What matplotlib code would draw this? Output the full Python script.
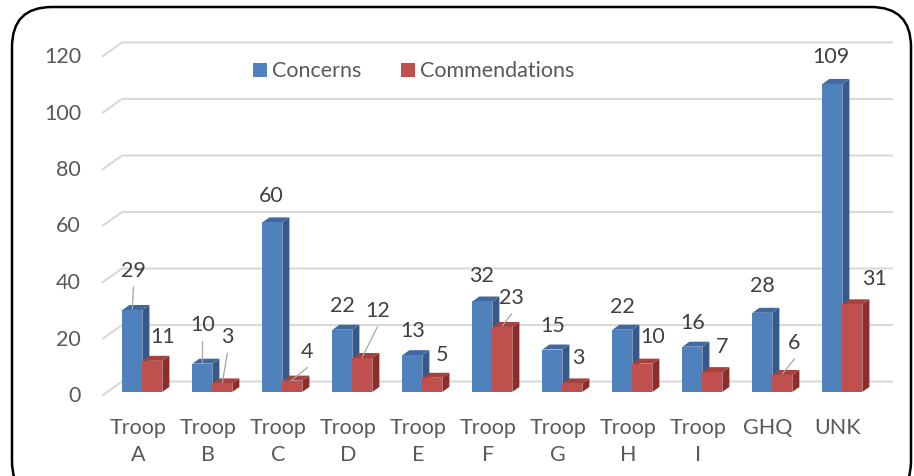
import matplotlib.pyplot as plt
import matplotlib.transforms as mtransforms
from matplotlib.patches import Polygon, FancyBboxPatch, Rectangle
from matplotlib.lines import Line2D

# --- data ---
categories = ["Troop\nA", "Troop\nB", "Troop\nC", "Troop\nD", "Troop\nE", "Troop\nF",
              "Troop\nG", "Troop\nH", "Troop\nI", "GHQ", "UNK"]
concerns = [29, 10, 60, 22, 13, 32, 15, 22, 16, 28, 109]
commendations = [11, 3, 4, 12, 5, 23, 3, 10, 7, 6, 31]
y_ticks = [0, 20, 40, 60, 80, 100, 120]

# label placement (px right, px above bar top, leader line?)
conc_lbl = [(1, 40, True), (0, 40, True), (-1, 27, False), (0, 25, False), (0, 25, False),
            (-1, 26, False), (0, 25, False), (0, 24, False), (0, 25, False), (0, 28, False),
            (-1, 28, False)]
comm_lbl = [(10, 25, False), (5, 47, True), (15, 30, True), (15, 48, True), (10, 24, False),
            (9, 30, True), (6, 26, False), (10, 28, False), (10, 26, False), (12, 33, True),
            (22, 26, False)]

W, H = 914, 477
FONT = ["Lato", "DejaVu Sans"]
FS = 15.5
TXT = "#595959"
GRID = "#D9D9D9"
BLUE = ("#4F81BD", "#34598A", "#41699F")   # front, side, top
RED = ("#C0504D", "#8A2D2B", "#A5413E")

fig = plt.figure(figsize=(W / 100, H / 100), dpi=100)
# front plane of the 3-D box
ax = fig.add_axes([103 / W, (H - 396) / H, 770 / W, 339 / H])
ax.set_xlim(-0.5, len(categories) - 0.5)
ax.set_ylim(0, 120)
ax.axis("off")

DX, DY = 19, 13.5          # depth of floor in px
D0, D1 = 0.23, 0.60        # bar front / back depth
BW = 20 / 70               # bar width in category units
ident = mtransforms.IdentityTransform()


def P(x, y, d=0.0):
    px, py = ax.transData.transform((x, y))
    return (px + d * DX, py + d * DY)


# gridlines (side + back wall)
for v in y_ticks:
    pts = [P(-0.5, v, 0), P(-0.5, v, 1), P(len(categories) - 0.5, v, 1)]
    ax.add_line(Line2D([p[0] for p in pts], [p[1] for p in pts], transform=ident,
                       color=GRID, lw=1.5, clip_on=False, zorder=1))
    x0, y0 = P(-0.5, v, 0)
    ax.text(81, y0, str(v), transform=ident, ha="right", va="center",
            fontsize=FS, color=TXT, family=FONT)


def bar3d(x0, x1, h, cols):
    front = [P(x0, 0, D0), P(x1, 0, D0), P(x1, h, D0), P(x0, h, D0)]
    side = [P(x1, 0, D0), P(x1, 0, D1), P(x1, h, D1), P(x1, h, D0)]
    top = [P(x0, h, D0), P(x1, h, D0), P(x1, h, D1), P(x0, h, D1)]
    for poly, c in ((side, cols[1]), (top, cols[2]), (front, cols[0])):
        ax.add_patch(Polygon(poly, closed=True, transform=ident, facecolor=c,
                             edgecolor="none", clip_on=False, zorder=3))


def label(cx, h, val, spec):
    ox, oy, leader = spec
    bx, by = P(cx, h, D0)
    lx, ly = bx + ox, by + oy
    ax.text(lx, ly, str(val), transform=ident, ha="center", va="center",
            fontsize=FS, color="#404040", family=FONT, zorder=5)
    if leader:
        ax.add_line(Line2D([lx, bx], [ly - 17, by + 1], transform=ident,
                           color="#A6A6A6", lw=0.9, clip_on=False, zorder=4))


for i, cat in enumerate(categories):
    bar3d(i - BW, i, concerns[i], BLUE)
    bar3d(i, i + BW, commendations[i], RED)
    label(i - BW / 2, concerns[i], concerns[i], conc_lbl[i])
    label(i + BW / 2, commendations[i], commendations[i], comm_lbl[i])
    cx, cy = P(i, 0, 0)
    ax.text(cx, H - 418, cat, transform=ident, ha="center", va="top",
            fontsize=FS, color=TXT, family=FONT, linespacing=1.45)

# legend
for sx, name, col in ((253, "Concerns", BLUE[0]), (401, "Commendations", RED[0])):
    fig.add_artist(Rectangle((sx, H - 78), 14, 14, transform=ident,
                             facecolor=col, edgecolor="none"))
    fig.text(sx + 19, H - 71, name, transform=ident, ha="left", va="center",
             fontsize=FS, color=TXT, family=FONT)

# rounded border
fig.add_artist(FancyBboxPatch((12, -25), 899, 494, transform=ident,
                              boxstyle="round,pad=0,rounding_size=40",
                              facecolor="none", edgecolor="black", lw=1.8))

fig.savefig("out.png", dpi=100)
